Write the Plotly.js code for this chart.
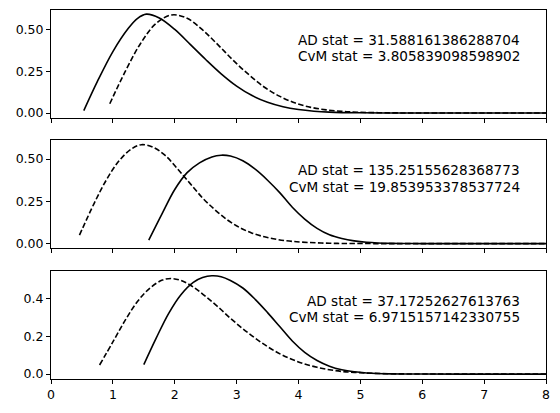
<!DOCTYPE html>
<html>
<head>
<meta charset="utf-8">
<script src="https://cdn.plot.ly/plotly-3.0.1.min.js"></script>
<style>html,body{margin:0;padding:0;background:#fff;}#chart{width:560px;height:413px;}</style>
</head>
<body>
<div id="chart"></div>
<script>
// Panel 1
const p1SolidX = [0.53, 0.75, 1.0, 1.25, 1.4, 1.54, 1.75, 2.0, 2.25, 2.5, 2.75, 3.0, 3.25, 3.5, 3.75, 4.0, 4.25, 4.5, 5.0, 5.5, 6.0, 7.0, 8.0];
const p1SolidY = [0.014, 0.19, 0.37, 0.51, 0.57, 0.595, 0.572, 0.503, 0.413, 0.322, 0.236, 0.162, 0.105, 0.065, 0.038, 0.021, 0.011, 0.0055, 0.0012, 0.0002, 0, 0, 0];
const p1DashX = [0.95, 1.2, 1.45, 1.7, 1.95, 2.2, 2.45, 2.7, 2.95, 3.2, 3.45, 3.7, 3.95, 4.2, 4.45, 4.7, 4.95, 5.5, 6.0, 7.0, 8.0];
const p1DashY = [0.056, 0.25, 0.42, 0.54, 0.59, 0.57, 0.50, 0.41, 0.315, 0.23, 0.155, 0.10, 0.06, 0.034, 0.019, 0.01, 0.005, 0.001, 0.0002, 0, 0];
// Panel 2
const p2SolidX = [1.58, 1.8, 2.0, 2.2, 2.4, 2.6, 2.75, 2.9, 3.1, 3.3, 3.5, 3.7, 3.9, 4.1, 4.3, 4.5, 4.7, 4.9, 5.1, 5.5, 6.0, 7.0, 8.0];
const p2SolidY = [0.02, 0.18, 0.32, 0.42, 0.478, 0.513, 0.523, 0.518, 0.49, 0.44, 0.375, 0.30, 0.215, 0.145, 0.09, 0.052, 0.03, 0.016, 0.008, 0.0015, 0.0002, 0, 0];
const p2DashX = [0.46, 0.7, 0.9, 1.1, 1.3, 1.46, 1.65, 1.85, 2.05, 2.25, 2.45, 2.65, 2.85, 3.05, 3.25, 3.45, 3.65, 3.85, 4.05, 4.5, 5.0, 6.0, 7.0, 8.0];
const p2DashY = [0.05, 0.24, 0.38, 0.49, 0.56, 0.585, 0.57, 0.52, 0.44, 0.355, 0.27, 0.20, 0.14, 0.095, 0.062, 0.04, 0.025, 0.015, 0.009, 0.002, 0.0004, 0, 0, 0];
// Panel 3
const p3SolidX = [1.50, 1.7, 1.9, 2.1, 2.3, 2.45, 2.6, 2.75, 2.9, 3.1, 3.3, 3.5, 3.7, 3.9, 4.1, 4.3, 4.5, 4.7, 4.9, 5.1, 5.5, 6.0, 7.0, 8.0];
const p3SolidY = [0.05, 0.19, 0.32, 0.42, 0.485, 0.51, 0.52, 0.515, 0.495, 0.455, 0.395, 0.325, 0.25, 0.175, 0.115, 0.072, 0.042, 0.023, 0.012, 0.006, 0.0013, 0.0002, 0, 0];
const p3DashX = [0.785, 1.0, 1.2, 1.4, 1.6, 1.8, 1.95, 2.1, 2.3, 2.5, 2.7, 2.9, 3.1, 3.3, 3.5, 3.7, 3.9, 4.1, 4.3, 4.5, 4.7, 4.9, 5.2, 5.6, 6.0, 7.0, 8.0];
const p3DashY = [0.048, 0.17, 0.285, 0.385, 0.455, 0.497, 0.505, 0.495, 0.46, 0.41, 0.355, 0.295, 0.24, 0.19, 0.145, 0.107, 0.077, 0.053, 0.036, 0.023, 0.014, 0.009, 0.004, 0.0012, 0.0004, 0, 0];

const adStats = ["AD stat = 31.588161386288704", "AD stat = 135.25155628368773", "AD stat = 37.17252627613763"];
const cvmStats = ["CvM stat = 3.805839098598902", "CvM stat = 19.853953378537724", "CvM stat = 6.9715157142330755"];

const solid = {color: '#000', width: 1.6, shape: 'spline', smoothing: 1};
const dashed = {color: '#000', width: 1.6, dash: '5.5px,2.4px', shape: 'spline', smoothing: 1};

function tr(x, y, line, ax) {
  return {x: x, y: y, mode: 'lines', line: line, xaxis: ax[0], yaxis: ax[1], showlegend: false, hoverinfo: 'skip'};
}
const data = [
  tr(p1SolidX, p1SolidY, solid, ['x', 'y']),
  tr(p1DashX, p1DashY, dashed, ['x', 'y']),
  tr(p2SolidX, p2SolidY, solid, ['x2', 'y2']),
  tr(p2DashX, p2DashY, dashed, ['x2', 'y2']),
  tr(p3SolidX, p3SolidY, solid, ['x3', 'y3']),
  tr(p3DashX, p3DashY, dashed, ['x3', 'y3'])
];

const font = {family: 'DejaVu Sans', size: 12.5, color: '#000'};
function xax(anchor, labels) {
  return {range: [0, 8], anchor: anchor, showgrid: false, zeroline: false, showline: true, mirror: true,
    linecolor: '#000', linewidth: 1, ticks: 'outside', ticklen: 4, tickwidth: 1, tickcolor: '#000',
    tick0: 0, dtick: 1, showticklabels: labels, tickfont: font};
}
function yax(anchor, domain, range, dtick, fmt) {
  return {domain: domain, range: range, anchor: anchor, showgrid: false, zeroline: false, showline: true, mirror: true,
    linecolor: '#000', linewidth: 1, ticks: 'outside', ticklen: 4, tickwidth: 1, tickcolor: '#000',
    tick0: 0, dtick: dtick, tickformat: fmt, tickfont: font};
}

const annFont = {family: 'DejaVu Sans', size: 13.6, color: '#000'};
const annotations = [];
const yrefs = ['y domain', 'y2 domain', 'y3 domain'];
const xrefs = ['x domain', 'x2 domain', 'x3 domain'];
const adY = [0.722, 0.722, 0.722];
const cvY = [0.574, 0.565, 0.574];
for (let i = 0; i < 3; i++) {
  annotations.push({text: adStats[i], xref: xrefs[i], yref: yrefs[i], x: 0.951, y: adY[i], xanchor: 'right', yanchor: 'middle', showarrow: false, font: annFont});
  annotations.push({text: cvmStats[i], xref: xrefs[i], yref: yrefs[i], x: 0.951, y: cvY[i], xanchor: 'right', yanchor: 'middle', showarrow: false, font: annFont});
}

const layout = {
  width: 560, height: 413,
  margin: {l: 51, r: 14, t: 10, b: 34},
  paper_bgcolor: '#fff', plot_bgcolor: '#fff',
  showlegend: false,
  xaxis: xax('y', false),
  yaxis: yax('x', [0.7073, 1], [-0.03, 0.62], 0.25, '.2f'),
  xaxis2: xax('y2', false),
  yaxis2: yax('x2', [0.355, 0.6477], [-0.026, 0.613], 0.25, '.2f'),
  xaxis3: xax('y3', true),
  yaxis3: yax('x3', [0, 0.2927], [-0.026, 0.545], 0.2, '.1f'),
  annotations: annotations
};

Plotly.newPlot('chart', data, layout, {staticPlot: true, displayModeBar: false});
</script>
</body>
</html>
